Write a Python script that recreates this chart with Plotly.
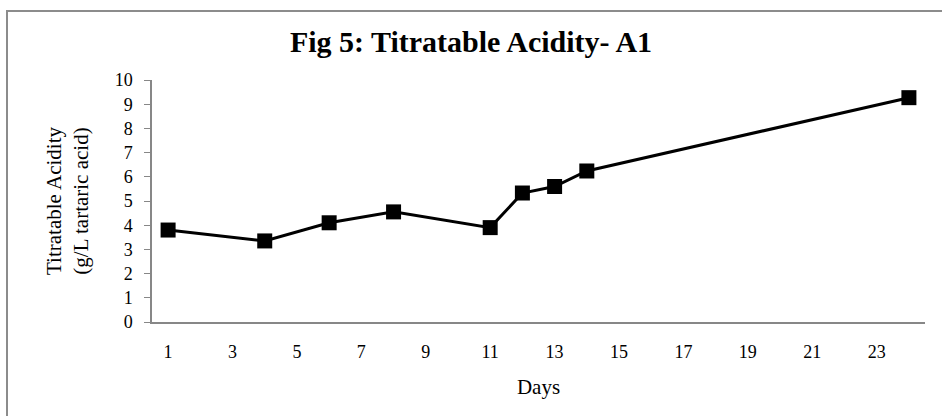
import plotly.graph_objects as go

days = [1, 4, 6, 8, 11, 12, 13, 14, 24]
acidity = [3.8, 3.35, 4.1, 4.55, 3.9, 5.33, 5.6, 6.24, 9.27]
x_ticks = [1, 3, 5, 7, 9, 11, 13, 15, 17, 19, 21, 23]
y_ticks = list(range(0, 11))

W, H = 942, 416
ML, MR, MT, MB = 152, 17, 80, 94
pw, ph = W - ML - MR, H - MT - MB

fig = go.Figure()
fig.add_trace(go.Scatter(
    x=days, y=acidity, mode="lines+markers",
    line=dict(color="black", width=3),
    marker=dict(symbol="square", size=15, color="black"),
    showlegend=False,
))

serif = "Liberation Serif, Times New Roman, serif"
fig.update_layout(
    width=W, height=H,
    margin=dict(l=ML, r=MR, t=MT, b=MB, autoexpand=False),
    paper_bgcolor="white", plot_bgcolor="white",
    font=dict(family=serif, color="black"),
    title=dict(text="<b>Fig 5: Titratable Acidity- A1</b>",
               font=dict(family=serif, size=30, color="black"),
               x=0.5, xanchor="center", y=1 - 41 / H, yanchor="middle"),
    xaxis=dict(range=[0.5, 24.5], tickvals=x_ticks, ticktext=[str(v) for v in x_ticks],
               showgrid=False, zeroline=False, showline=True, linecolor="#878787", linewidth=1.5,
               ticks="", tickfont=dict(size=18), ticklabelstandoff=13,
               title=dict(text="Days", font=dict(size=21), standoff=18),
               automargin=False),
    yaxis=dict(range=[0, 10], tickvals=y_ticks, showgrid=False, zeroline=False,
               showline=True, linecolor="#878787", linewidth=1.5,
               ticks="outside", ticklen=6, tickcolor="#878787", tickwidth=1.2,
               tickfont=dict(size=18), ticklabelstandoff=8,
               title=dict(text="Titratable Acidity<br>(g/L tartaric acid)", font=dict(size=21), standoff=20),
               automargin=False),
    shapes=[dict(type="rect", xref="paper", yref="paper",
                 x0=(7 - ML) / pw, x1=1.2, y0=-1.0, y1=1 + (MT - 11) / ph,
                 line=dict(color="#8c8c8c", width=2), layer="below")],
)

fig.write_html("out.html")
